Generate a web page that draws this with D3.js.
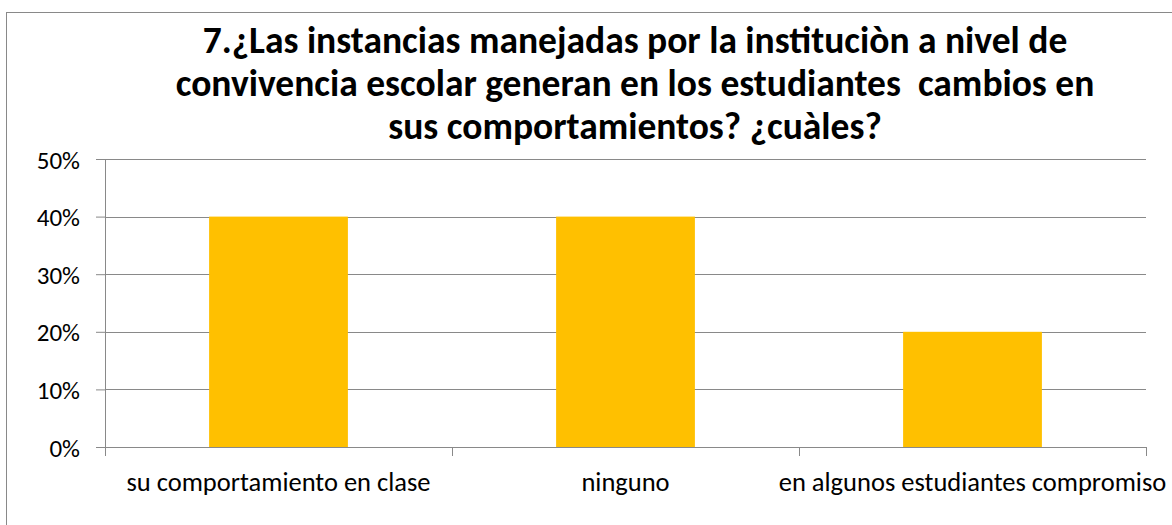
<!DOCTYPE html>
<html>
<head>
<meta charset="utf-8">
<script src="https://cdn.jsdelivr.net/npm/d3@7"></script>
<style>
  body { margin: 0; background: #fff; }
  svg { display: block; font-family: Carlito, Lato, "Open Sans", sans-serif; }
</style>
</head>
<body>
<svg id="chart" width="1172" height="525"></svg>
<script>
// data
var categories = ["su comportamiento en clase", "ninguno", "en algunos estudiantes compromiso"];
var values = [0.40, 0.40, 0.20];
var yTicks = [0, 0.1, 0.2, 0.3, 0.4, 0.5];
var titleLines = [
  "7.¿Las instancias manejadas por la instituciòn a nivel de",
  "convivencia escolar generan en los estudiantes  cambios en",
  "sus comportamientos? ¿cuàles?"
];

var svg = d3.select("#chart");
var margin = {left: 105, right: 26, top: 159, bottom: 78};
var W = 1172, H = 525;
var plotW = W - margin.left - margin.right;
var plotH = H - margin.top - margin.bottom;
var grey = "#898989";

// outer frame (runs off the right and bottom of the picture)
svg.append("rect")
  .attr("x", 6.5).attr("y", 12.5)
  .attr("width", 1200).attr("height", 600)
  .attr("fill", "none").attr("stroke", grey).attr("stroke-width", 1);

// title
svg.append("text")
  .attr("text-anchor", "middle")
  .attr("font-weight", "bold")
  .attr("font-size", 37.5)
  .attr("fill", "#000")
  .selectAll("tspan")
  .data(titleLines)
  .enter().append("tspan")
    .attr("x", 635)
    .attr("y", (d, i) => 53 + i * 43)
    .style("white-space", "pre")
    .text(d => d);

var plot = svg.append("g").attr("transform", "translate(" + margin.left + "," + margin.top + ")");

var x = d3.scaleBand().domain(categories).range([0, plotW]).padding(0);
var y = d3.scaleLinear().domain([0, 0.5]).range([plotH, 0]);

// gridlines
plot.append("g")
  .selectAll("line")
  .data(yTicks.filter(d => d > 0))
  .enter().append("line")
    .attr("x1", 0).attr("x2", plotW)
    .attr("y1", d => Math.round(y(d)) + 0.5)
    .attr("y2", d => Math.round(y(d)) + 0.5)
    .attr("stroke", grey);

// bars
var barW = x.bandwidth() * 0.4;
plot.selectAll(".bar")
  .data(values)
  .enter().append("rect")
    .attr("class", "bar")
    .attr("x", (d, i) => x(categories[i]) + (x.bandwidth() - barW) / 2)
    .attr("width", barW)
    .attr("y", d => y(d))
    .attr("height", d => plotH - y(d))
    .attr("fill", "#FFC000");

// y axis
var yAxis = plot.append("g")
  .call(d3.axisLeft(y).tickValues(yTicks).tickFormat(d3.format(".0%")).tickSize(9).tickPadding(16));
yAxis.attr("font-family", null).attr("font-size", null);
yAxis.selectAll("line").attr("stroke", grey);
yAxis.select(".domain").attr("stroke", grey).attr("d", "M0.5,0V" + plotH);
yAxis.selectAll("text").attr("font-size", 25).attr("fill", "#000").attr("dy", "0.36em");

// x axis with ticks at band edges
var xAxis = plot.append("g").attr("transform", "translate(0," + plotH + ")");
xAxis.append("line")
  .attr("x1", 0).attr("x2", plotW).attr("y1", 0.5).attr("y2", 0.5)
  .attr("stroke", grey);
var edges = categories.map(c => x(c)).concat([plotW]);
xAxis.selectAll(".xtick")
  .data(edges)
  .enter().append("line")
    .attr("class", "xtick")
    .attr("x1", d => Math.round(d) + 0.5).attr("x2", d => Math.round(d) + 0.5)
    .attr("y1", 0).attr("y2", 9)
    .attr("stroke", grey);
xAxis.selectAll(".xlab")
  .data(categories)
  .enter().append("text")
    .attr("class", "xlab")
    .attr("x", d => x(d) + x.bandwidth() / 2)
    .attr("y", 44)
    .attr("text-anchor", "middle")
    .attr("font-size", 26.5)
    .attr("fill", "#000")
    .text(d => d);
</script>
</body>
</html>
